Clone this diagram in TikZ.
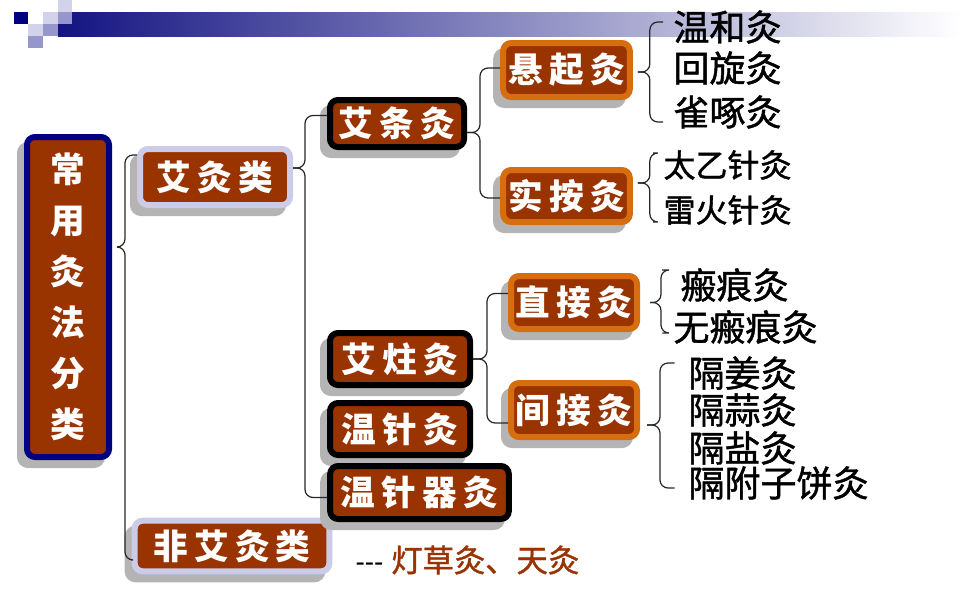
\documentclass[tikz,border=0pt]{standalone}
\usepackage{fontspec}
\newfontfamily\cjk{Noto Sans CJK SC}
\newfontfamily\cjkleaf{Noto Sans CJK SC}[FakeBold=1.2]
\newfontfamily\latin{Liberation Sans}
\usetikzlibrary{shadows,calc}

\definecolor{brick}{RGB}{153,51,0}
\definecolor{navyedge}{RGB}{0,0,128}
\definecolor{navybar}{RGB}{20,20,130}
\definecolor{lavedge}{RGB}{204,204,232}
\definecolor{orangeedge}{RGB}{214,110,16}
\definecolor{shadowgray}{RGB}{180,180,180}
\definecolor{lightsq}{RGB}{210,210,235}
\definecolor{midsq}{RGB}{150,150,205}

\tikzset{every picture/.style={line width=0.75pt}}
\tikzset{
	kbox/.style={rectangle, rounded corners=6pt, fill=brick, line width=4.5pt, inner sep=0pt,
		text=white, font=\cjk\bfseries\addfontfeature{LetterSpace=18}\fontsize{26}{26}\selectfont,
		drop shadow={shadow xshift=-5.25pt, shadow yshift=-6pt, opacity=1, fill=shadowgray, draw=shadowgray}},
	navybox/.style={kbox, draw=navyedge},
	lavbox/.style={kbox, draw=lavedge},
	blackbox/.style={kbox, draw=black},
	orangebox/.style={kbox, draw=orangeedge},
	leaf/.style={anchor=west, inner sep=0pt, font=\cjkleaf\fontsize{27}{27}\selectfont},
	brace/.style={draw=black!85, line width=0.9pt, rounded corners=6pt}}

\begin{document}
\begin{tikzpicture}[x=0.75pt,y=0.75pt,yscale=-1,xscale=1]
	\useasboundingbox (0,0) rectangle (960,600);

	%Header bar
	\shade[left color=navybar, right color=white] (58,12) rectangle (960,36);
	\fill[navyedge] (14,12) rectangle (28,24);
	\fill[lightsq] (43,12) rectangle (58,24);
	\fill[lightsq] (58,0) rectangle (72,12);
	\fill[midsq] (58,12) rectangle (72,24);
	\fill[lightsq] (28,24) rectangle (43,36);
	\fill[midsq] (43,24) rectangle (58,36);
	\fill[midsq] (28,36) rectangle (43,48);

	% Text Node
	\node[navybox, minimum width=61.5pt, minimum height=240pt, align=center,
		font=\cjk\bfseries\fontsize{26}{38.25}\selectfont] (cyfl) at (68,297) {常\\用\\灸\\法\\分\\类};
	% Text Node
	\node[lavbox, minimum width=112.5pt, minimum height=42pt] (ajl) at (215,177) {艾灸类};
	% Text Node
	\node[lavbox, minimum width=146pt, minimum height=38pt] (fajl) at (232,546) {非艾灸类};
	% Text Node
	\node[blackbox, minimum width=100.5pt, minimum height=35.25pt] (atj) at (397,123.5) {艾条灸};
	% Text Node
	\node[blackbox, minimum width=105pt, minimum height=39pt] (azj) at (400,359) {艾炷灸};
	% Text Node
	\node[blackbox, minimum width=105pt, minimum height=39pt] (wzj) at (400,429) {温针灸};
	% Text Node
	\node[blackbox, minimum width=134pt, minimum height=39.75pt] (wzqj) at (419.5,492.5) {温针器灸};
	% Text Node
	\node[orangebox, minimum width=95pt, minimum height=40.5pt] (xqj) at (566.5,70) {悬起灸};
	% Text Node
	\node[orangebox, minimum width=95pt, minimum height=39pt] (saj) at (566.5,196) {实按灸};
	% Text Node
	\node[orangebox, minimum width=94.5pt, minimum height=39.75pt] (zjj) at (574,302.5) {直接灸};
	% Text Node
	\node[orangebox, minimum width=94.5pt, minimum height=40.5pt] (jjj) at (574,410) {间接灸};

	% Leaves
	\node[leaf] (whj) at (673,27) {温和灸};
	\node[leaf] (hxj) at (673,68) {回旋灸};
	\node[leaf] (qzj) at (673,112) {雀啄灸};
	\node[leaf, font=\cjkleaf\fontsize{24}{24}\selectfont] (tyzj) at (663,165) {太乙针灸};
	\node[leaf, font=\cjkleaf\fontsize{24}{24}\selectfont] (lhzj) at (663,210) {雷火针灸};
	\node[leaf] (bhj) at (680,285) {瘢痕灸};
	\node[leaf] (wbhj) at (673,327) {无瘢痕灸};
	\node[leaf] (gjj) at (688,373) {隔姜灸};
	\node[leaf] (gsj) at (688,410) {隔蒜灸};
	\node[leaf] (gyj) at (688,448) {隔盐灸};
	\node[leaf] (gfzbj) at (688,483) {隔附子饼灸};

	% Text Node
	\node[anchor=west, inner sep=0pt] (fajlnote) at (355,560)
		{\latin\fontsize{21}{21}\selectfont --- {\cjkleaf\color{brick}\fontsize{23.5}{23.5}\selectfont 灯草灸、天灸}};

	%Braces
	\draw[brace] ($(cyfl.east)+(5,-50)$) -- ++(8,0) |- ($(ajl.west)+(0,-22)$);
	\draw[brace] ($(cyfl.east)+(5,-50)$) -- ++(8,0) |- ($(fajl.west)+(0,14)$);
	\draw[brace] ($(ajl.east)+(0,-9)$) -- ++(12,0) |- ($(atj.west)+(0,-8)$);
	\draw[brace] ($(ajl.east)+(0,-9)$) -- ++(12,0) |- ($(wzqj.west)+(0,5)$);
	\draw[brace] ($(atj.east)+(0,9)$) -- ++(13,0) |- ($(xqj.west)+(0,-2)$);
	\draw[brace] ($(atj.east)+(0,9)$) -- ++(13,0) |- ($(saj.west)+(0,2)$);
	\draw[brace] (azj.east) -- ++(14,0) |- ($(zjj.west)+(0,-9)$);
	\draw[brace] (azj.east) -- ++(14,0) |- ($(jjj.west)+(0,13)$);
	\draw[brace, shorten >=7.5pt] ($(xqj.east)+(5,2)$) -- ++(12,0) |- ($(whj.west)+(0,-5)$);
	\draw[brace, shorten >=7.5pt] ($(xqj.east)+(5,2)$) -- ++(12,0) |- ($(qzj.west)+(0,10)$);
	\draw[brace, shorten >=7.5pt] ($(saj.east)+(5,-13)$) -- ++(12,0) |- ($(tyzj.west)+(0,-12)$);
	\draw[brace, shorten >=7.5pt] ($(saj.east)+(5,-13)$) -- ++(12,0) |- ($(lhzj.west)+(0,12)$);
	\draw[brace, shorten >=13.5pt] ($(zjj.east)+(10,0)$) -- ++(11,0) |- ($(bhj.west)+(0,-15)$);
	\draw[brace, shorten >=8pt] ($(zjj.east)+(10,0)$) -- ++(11,0) |- ($(wbhj.west)+(0,6)$);
	\draw[brace, shorten >=10pt] ($(jjj.east)+(7,15)$) -- ++(13,0) |- ($(gjj.west)+(0,-10)$);
	\draw[brace, shorten >=10pt] ($(jjj.east)+(7,15)$) -- ++(13,0) |- ($(gfzbj.west)+(0,5)$);

\end{tikzpicture}
\end{document}
